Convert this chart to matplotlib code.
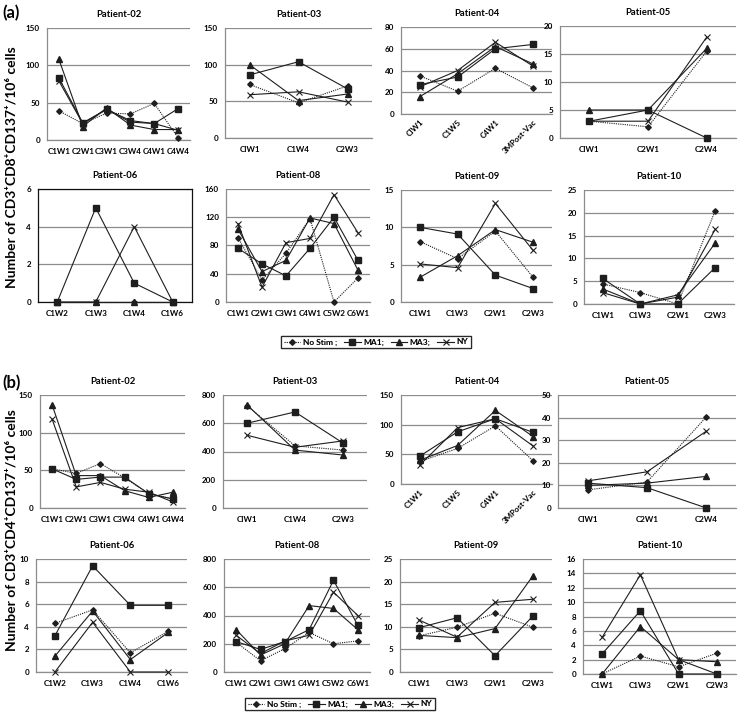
import matplotlib
matplotlib.use('Agg')
import matplotlib.pyplot as plt
from matplotlib.lines import Line2D

plt.rcParams['font.family'] = ['Lato', 'DejaVu Sans']
plt.rcParams['font.weight'] = 'bold'

W, H = 738, 715
fig = plt.figure(figsize=(W / 100, H / 100), dpi=100)

SERIES = ['No Stim ;', 'MA1;', 'MA3;', 'NY']

# ---------------- (a) CD3+CD8+CD137+ ----------------
a02_cats = ['C1W1', 'C2W1', 'C3W1', 'C3W4', 'C4W1', 'C4W4']
a02_nostim = [39, 22, 36, 35, 49, 3]
a02_ma1 = [83, 23, 41, 26, 22, 42]
a02_ma3 = [108, 18, 43, 20, 14, 14]
a02_ny = [79, 22, 41, 24, 22, 13]
a02_ticks = [0, 50, 100, 150]

a03_cats = ['CIW1', 'C1W4', 'C2W3']
a03_nostim = [73, 48, 71]
a03_ma1 = [86, 104, 67]
a03_ma3 = [100, 51, 60]
a03_ny = [59, 63, 49]
a03_ticks = [0, 50, 100, 150]

a04_cats = ['CIW1', 'C1W5', 'C4W1', '3MPost-Vac']
a04_nostim = [35, 21, 42, 24]
a04_ma1 = [27, 34, 60, 64]
a04_ma3 = [16, 37, 62, 46]
a04_ny = [25, 40, 66, 44]
a04_ticks = [0, 20, 40, 60, 80]

a05_cats = ['CIW1', 'C2W1', 'C2W4']
a05_nostim = [3, 2, 15.5]
a05_ma1 = [3, 5, 0]
a05_ma3 = [5, 5, 16]
a05_ny = [3, 3, 18]
a05_ticks = [0, 5, 10, 15, 20]

a06_cats = ['C1W2', 'C1W3', 'C1W4', 'C1W6']
a06_nostim = [0, 0, 0, 0]
a06_ma1 = [0, 5, 1, 0]
a06_ma3 = [0, 0, 0, 0]
a06_ny = [0, 0, 4, 0]
a06_ticks = [0, 2, 4, 6]

a08_cats = ['C1W1', 'C2W1', 'C3W1', 'C4W1', 'C5W2', 'C6W1']
a08_nostim = [91, 31, 69, 118, 0, 34]
a08_ma1 = [76, 54, 37, 76, 120, 59]
a08_ma3 = [103, 43, 59, 119, 111, 45]
a08_ny = [111, 21, 84, 90, 152, 98]
a08_ticks = [0, 40, 80, 120, 160]

a09_cats = ['C1W1', 'C1W3', 'C2W1', 'C2W3']
a09_nostim = [8.1, 5.8, 9.5, 3.3]
a09_ma1 = [10, 9.1, 3.6, 1.8]
a09_ma3 = [3.3, 6.2, 9.7, 8]
a09_ny = [5.1, 4.6, 13.2, 6.9]
a09_ticks = [0, 5, 10, 15]

a10_cats = ['C1W1', 'C1W3', 'C2W1', 'C2W3']
a10_nostim = [4.4, 2.5, 0, 20.5]
a10_ma1 = [5.6, 0, 0, 8]
a10_ma3 = [3.3, 0, 2, 13.4]
a10_ny = [2.5, 0, 1.5, 16.4]
a10_ticks = [0, 5, 10, 15, 20, 25]

# ---------------- (b) CD3+CD4+CD137+ ----------------
b02_cats = ['C1W1', 'C2W1', 'C3W1', 'C3W4', 'C4W1', 'C4W4']
b02_nostim = [52, 46, 59, 40, 19, 12]
b02_ma1 = [52, 38, 41, 41, 19, 12]
b02_ma3 = [137, 43, 43, 23, 14, 21]
b02_ny = [118, 28, 34, 25, 21, 8]
b02_ticks = [0, 50, 100, 150]

b03_cats = ['CIW1', 'C1W4', 'C2W3']
b03_nostim = [725, 440, 410]
b03_ma1 = [600, 680, 460]
b03_ma3 = [730, 410, 375]
b03_ny = [515, 430, 475]
b03_ticks = [0, 200, 400, 600, 800]

b04_cats = ['C1W1', 'C1W5', 'C4W1', '3MPost-Vac']
b04_nostim = [38, 60, 98, 39]
b04_ma1 = [47, 88, 110, 87]
b04_ma3 = [40, 65, 124, 80]
b04_ny = [32, 95, 110, 64]
b04_ticks = [0, 50, 100, 150]

b05_cats = ['CIW1', 'C2W1', 'C2W4']
b05_nostim = [8, 11.5, 40.3]
b05_ma1 = [11, 9, 0]
b05_ma3 = [10, 11, 14]
b05_ny = [12, 16, 34]
b05_ticks = [0, 10, 20, 30, 40, 50]

b06_cats = ['C1W2', 'C1W3', 'C1W4', 'C1W6']
b06_nostim = [4.3, 5.5, 1.7, 3.6]
b06_ma1 = [3.2, 9.4, 5.9, 5.9]
b06_ma3 = [1.4, 5.4, 1.1, 3.5]
b06_ny = [0, 4.4, 0, 0]
b06_ticks = [0, 2, 4, 6, 8, 10]

b08_cats = ['C1W1', 'C2W1', 'C3W1', 'C4W1', 'C5W2', 'C6W1']
b08_nostim = [210, 80, 165, 280, 200, 220]
b08_ma1 = [215, 160, 215, 300, 650, 330]
b08_ma3 = [300, 120, 200, 470, 450, 300]
b08_ny = [260, 130, 220, 260, 565, 400]
b08_ticks = [0, 200, 400, 600, 800]

b09_cats = ['C1W1', 'C1W3', 'C2W1', 'C2W3']
b09_nostim = [8, 9.9, 13, 9.9]
b09_ma1 = [9.8, 12, 3.6, 12.4]
b09_ma3 = [8.1, 7.6, 9.6, 21.3]
b09_ny = [11.5, 7.7, 15.4, 16.1]
b09_ticks = [0, 5, 10, 15, 20, 25]

b10_cats = ['C1W1', 'C1W3', 'C2W1', 'C2W3']
b10_nostim = [0, 2.5, 1, 2.9]
b10_ma1 = [2.8, 8.8, 0, 0]
b10_ma3 = [0, 6.6, 2, 1.7]
b10_ny = [5.1, 13.8, 2, 0]
b10_ticks = [0, 2, 4, 6, 8, 10, 12, 14, 16]

LINE_COLOR = '#1e1e1e'
STYLES = [
    dict(ls=(0, (1, 1)), marker='D', ms=2.8),
    dict(ls='-', marker='s', ms=4),
    dict(ls='-', marker='^', ms=4.2),
    dict(ls='-', marker='x', ms=4.5, mew=0.8),
]


def panel(box, title, cats, series, yticks, rot=False, frame=False):
    l, t, r, b = box
    ax = fig.add_axes([l / W, 1 - b / H, (r - l) / W, (b - t) / H])
    xs = list(range(len(cats)))
    for vals, st in zip(series, STYLES):
        ax.plot(xs, vals, color=LINE_COLOR, lw=0.8, mfc=LINE_COLOR,
                mec=LINE_COLOR, clip_on=False, zorder=3, **st)
    ax.set_xlim(-0.5, len(cats) - 0.5)
    ax.set_ylim(yticks[0], yticks[-1])
    ax.set_yticks(yticks)
    ax.set_xticks(xs)
    if rot:
        ax.set_xticklabels(cats, rotation=45, ha='right',
                           rotation_mode='anchor', fontsize=5.8, fontweight='bold')
    else:
        ax.set_xticklabels(cats, fontsize=5.8, fontweight='bold')
    for lab in ax.get_yticklabels():
        lab.set_fontsize(5.8)
        lab.set_fontweight('bold')
    ax.tick_params(length=0, pad=5)
    ax.tick_params(axis='x', pad=6 if not rot else 3)
    ax.grid(axis='y', color='#8c8c8c', lw=0.9)
    ax.set_axisbelow(True)
    for s in ['top', 'right']:
        ax.spines[s].set_visible(frame)
    for s in ax.spines.values():
        s.set_color('#111111' if frame else '#8c8c8c')
        s.set_linewidth(0.9)
    ax.set_title(title, fontsize=6.8, fontweight='bold', pad=8)
    return ax


# (a) row 1
panel((47, 28, 190, 140), 'Patient-02', a02_cats,
      [a02_nostim, a02_ma1, a02_ma3, a02_ny], a02_ticks)
panel((225, 28, 372, 138), 'Patient-03', a03_cats,
      [a03_nostim, a03_ma1, a03_ma3, a03_ny], a03_ticks)
panel((401, 27, 552, 114), 'Patient-04', a04_cats,
      [a04_nostim, a04_ma1, a04_ma3, a04_ny], a04_ticks, rot=True)
panel((560, 26, 736, 138), 'Patient-05', a05_cats,
      [a05_nostim, a05_ma1, a05_ma3, a05_ny], a05_ticks)
# (a) row 2
panel((38, 189, 192, 302), 'Patient-06', a06_cats,
      [a06_nostim, a06_ma1, a06_ma3, a06_ny], a06_ticks, frame=True)
panel((226, 189, 370, 302), 'Patient-08', a08_cats,
      [a08_nostim, a08_ma1, a08_ma3, a08_ny], a08_ticks)
panel((401, 190, 552, 302), 'Patient-09', a09_cats,
      [a09_nostim, a09_ma1, a09_ma3, a09_ny], a09_ticks)
panel((584, 190, 734, 304), 'Patient-10', a10_cats,
      [a10_nostim, a10_ma1, a10_ma3, a10_ny], a10_ticks)
# (b) row 1
panel((40, 395, 185, 508), 'Patient-02', b02_cats,
      [b02_nostim, b02_ma1, b02_ma3, b02_ny], b02_ticks)
panel((223, 395, 367, 508), 'Patient-03', b03_cats,
      [b03_nostim, b03_ma1, b03_ma3, b03_ny], b03_ticks)
panel((401, 395, 552, 484), 'Patient-04', b04_cats,
      [b04_nostim, b04_ma1, b04_ma3, b04_ny], b04_ticks, rot=True)
panel((558, 395, 736, 508), 'Patient-05', b05_cats,
      [b05_nostim, b05_ma1, b05_ma3, b05_ny], b05_ticks)
# (b) row 2
panel((36, 559, 187, 672), 'Patient-06', b06_cats,
      [b06_nostim, b06_ma1, b06_ma3, b06_ny], b06_ticks)
panel((224, 559, 370, 672), 'Patient-08', b08_cats,
      [b08_nostim, b08_ma1, b08_ma3, b08_ny], b08_ticks)
panel((400, 559, 552, 672), 'Patient-09', b09_cats,
      [b09_nostim, b09_ma1, b09_ma3, b09_ny], b09_ticks)
panel((583, 559, 736, 674), 'Patient-10', b10_cats,
      [b10_nostim, b10_ma1, b10_ma3, b10_ny], b10_ticks)

# legends
handles = [Line2D([], [], color=LINE_COLOR, lw=0.8, mfc=LINE_COLOR,
                  mec=LINE_COLOR, **st) for st in STYLES]
for cx, cy in [(376, 342), (340, 704)]:
    leg = fig.legend(handles, SERIES, loc='center', ncol=4,
                     bbox_to_anchor=(cx / W, 1 - cy / H), fontsize=6,
                     frameon=True, fancybox=False, handlelength=2.0,
                     handletextpad=0.3, columnspacing=0.8, borderpad=0.35,
                     prop={'weight': 'bold', 'size': 6})
    leg.get_frame().set_edgecolor('#111111')
    leg.get_frame().set_linewidth(0.9)
    fig.add_artist(leg)

# axis labels and panel letters
fig.text(12 / W, 1 - 167 / H, 'Number of CD3⁺CD8⁺CD137⁺/10⁶ cells',
         rotation=90, ha='center', va='center', fontsize=10, fontweight='bold')
fig.text(12 / W, 1 - 530 / H, 'Number of CD3⁺CD4⁺CD137⁺/10⁶ cells',
         rotation=90, ha='center', va='center', fontsize=10, fontweight='bold')
fig.text(2 / W, 1 - 13 / H, '(a)', ha='left', va='center', fontsize=12, fontweight='bold')
fig.text(2 / W, 1 - 383 / H, '(b)', ha='left', va='center', fontsize=12, fontweight='bold')

fig.savefig('out.png', dpi=100, facecolor='white')
